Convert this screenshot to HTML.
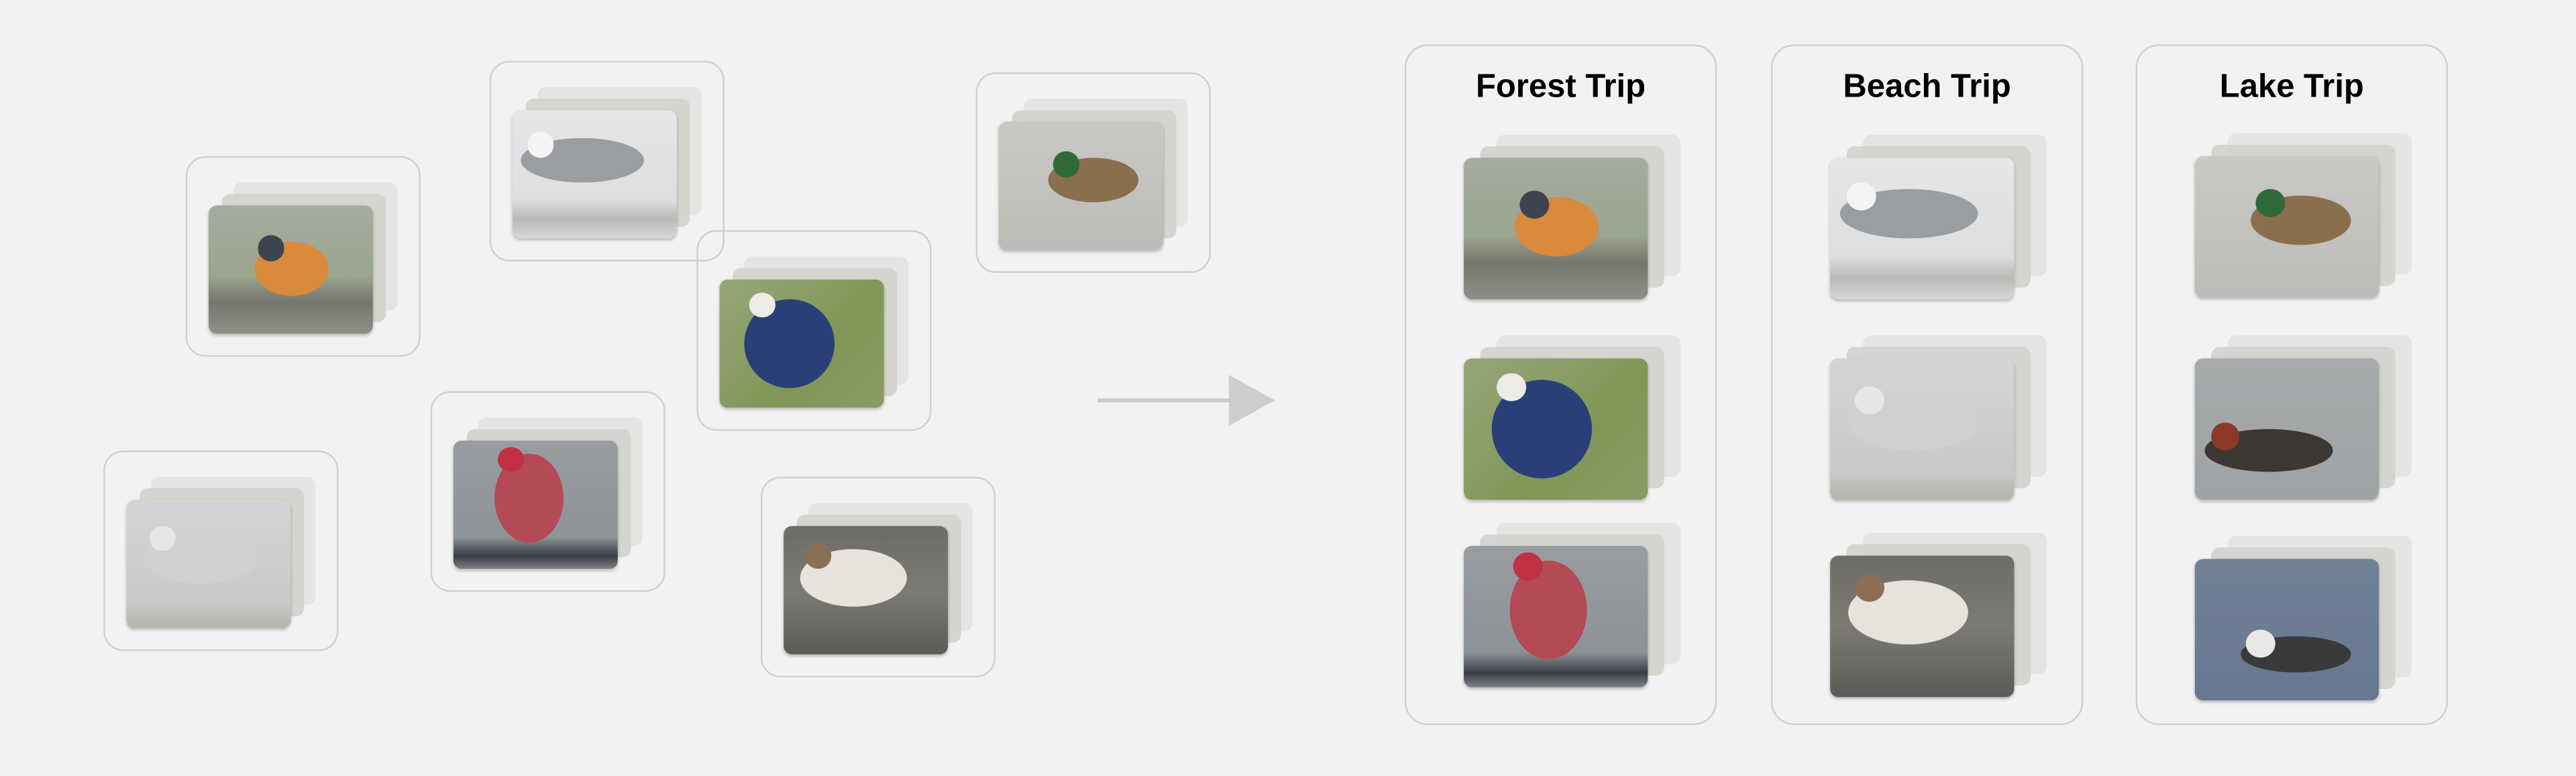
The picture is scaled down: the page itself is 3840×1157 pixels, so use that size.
<!DOCTYPE html>
<html><head><meta charset="utf-8">
<style>
html,body{margin:0;padding:0;background:#f2f2f2;}
#root{position:absolute;left:0;top:0;width:1568px;height:472px;transform-origin:0 0;transform:scale(2.44898,2.45127);background:#f2f2f2;overflow:hidden;font-family:"Liberation Sans",sans-serif;}
.box{position:absolute;border:1.3px solid #cfcfcf;border-radius:12px;box-sizing:border-box;}
.panel{position:absolute;border:1.3px solid #cfcfcf;border-radius:14px;box-sizing:border-box;}
.title{position:absolute;left:0;right:0;top:14px;text-align:center;font-weight:bold;font-size:20px;color:#000;}
.layer{position:absolute;border-radius:5px;}
.photo{position:absolute;border-radius:5px;overflow:hidden;box-shadow:0 1px 2px rgba(0,0,0,0.25);}
.bird{position:absolute;border-radius:50%;}
</style></head>
<body>
<div id="root">
<svg style="position:absolute;left:0;top:0" width="1568" height="472">
<line x1="668" y1="243.5" x2="752" y2="243.5" stroke="#cdcdcd" stroke-width="2.5"/>
<polygon points="748,228 776,243.5 748,259" fill="#cdcdcd"/>
</svg>
</div>
<script>
// photo kinds: bg gradient, bird color, bird shape
const kinds = {
  thrush:{bg:"linear-gradient(180deg,#a6ab9f 0%,#9aa58e 55%,#77756f 75%,#8c9184 100%)",bird:"#d98a3a",head:"#3d4450",bx:0.28,by:0.28,bw:0.45,bh:0.42},
  gull:{bg:"linear-gradient(180deg,#e4e6e8 0%,#dcdee0 70%,#b9b9b7 85%,#d6d6d6 100%)",bird:"#9a9da2",head:"#f4f4f4",bx:0.05,by:0.22,bw:0.75,bh:0.35},
  teal:{bg:"linear-gradient(180deg,#c9c8c4 0%,#bdbcb7 100%)",bird:"#8a6f4f",head:"#2f6a3b",bx:0.3,by:0.28,bw:0.55,bh:0.35},
  swallow:{bg:"linear-gradient(135deg,#98a67a 0%,#7f9757 60%,#8c9a66 100%)",bird:"#2a3f78",head:"#ecebe8",bx:0.15,by:0.15,bw:0.55,bh:0.7},
  finch:{bg:"linear-gradient(180deg,#999da2 0%,#8e9398 75%,#3a3e44 90%,#7c8186 100%)",bird:"#b44a55",head:"#c23044",bx:0.25,by:0.1,bw:0.42,bh:0.7},
  gull2:{bg:"linear-gradient(180deg,#d4d4d4 0%,#c9c9c9 80%,#b5b2aa 100%)",bird:"#cfd0d2",head:"#e8e6e4",bx:0.1,by:0.25,bw:0.7,bh:0.4},
  sand:{bg:"linear-gradient(180deg,#6d6c68 0%,#7c7a74 50%,#5c5b56 100%)",bird:"#e6e2dc",head:"#8a6e55",bx:0.1,by:0.18,bw:0.65,bh:0.45},
  rgrebe:{bg:"linear-gradient(180deg,#a7aaab 0%,#9fa3a5 100%)",bird:"#3d3734",head:"#8a3a26",bx:0.05,by:0.5,bw:0.7,bh:0.3},
  wgrebe:{bg:"linear-gradient(180deg,#728196 0%,#677790 100%)",bird:"#3a3a3c",head:"#e8e8e8",bx:0.25,by:0.55,bw:0.6,bh:0.25}
};
// scattered groups: [x,y,kind]
const groupX=[113,298,594,424,262,63,463];
const groupY=[95,37,44,140,238,274,290];
const groupKind=["thrush","gull","teal","swallow","finch","gull2","sand"];
const groupNames=["thrush-group","gull-group","teal-group","swallow-group","finch-group","gull2-group","sandpiper-group"];
// panels
const panelX=[855,1078,1300];
const panelTitles=["Forest Trip","Beach Trip","Lake Trip"];
const panelKinds=[["thrush","swallow","finch"],["gull","gull2","sand"],["teal","rgrebe","wgrebe"]];
const panelPhotoY=[[96,218,332],[96,218,338],[95,218,340]];

const root=document.getElementById('root');
function stack(parent,x,y,w,h,kind,ox,oy){
  const k=kinds[kind];
  const l2=document.createElement('div');l2.className='layer';
  
  
  l2.style.cssText=`left:${x+2*ox}px;top:${y-2*oy}px;width:${w}px;height:${h}px;background:#e2e2e0;opacity:0.85`;
  parent.appendChild(l2);
  const l1=document.createElement('div');l1.className='layer';
  
  
  l1.style.cssText=`left:${x+ox}px;top:${y-oy}px;width:${w}px;height:${h}px;background:#d2d3cc;opacity:0.9`;
  parent.appendChild(l1);
  const p=document.createElement('div');p.className='photo';
  
  
  p.style.cssText=`left:${x}px;top:${y}px;width:${w}px;height:${h}px;background:${k.bg}`;
  const b=document.createElement('div');b.className='bird';
  
  
  b.style.cssText=`left:${k.bx*w}px;top:${k.by*h}px;width:${k.bw*w}px;height:${k.bh*h}px;background:${k.bird}`;
  p.appendChild(b);
  const hd=document.createElement('div');hd.className='bird';
  
  
  hd.style.cssText=`left:${k.bx*w+k.bw*w*0.05}px;top:${k.by*h-h*0.05}px;width:${w*0.16}px;height:${h*0.2}px;background:${k.head}`;
  p.appendChild(hd);
  parent.appendChild(p);
}
for(let i=0;i<groupX.length;i++){
  const bx=document.createElement('div');bx.className='box';
  
  
  bx.style.cssText=`left:${groupX[i]}px;top:${groupY[i]}px;width:143px;height:122px`;
  root.appendChild(bx);
  stack(root,groupX[i]+14,groupY[i]+30,100,78,groupKind[i],7.5,7);
}
for(let j=0;j<panelX.length;j++){
  const pn=document.createElement('div');pn.className='panel';
  
  
  pn.style.cssText=`left:${panelX[j]}px;top:27px;width:190px;height:414px`;
  const t=document.createElement('div');t.className='title';t.textContent=panelTitles[j];
  
  
  pn.appendChild(t);
  root.appendChild(pn);
  for(let r=0;r<3;r++){
    stack(root,panelX[j]+36,panelPhotoY[j][r],112,86,panelKinds[j][r],10,7);
  }
}
</script>
</body></html>
